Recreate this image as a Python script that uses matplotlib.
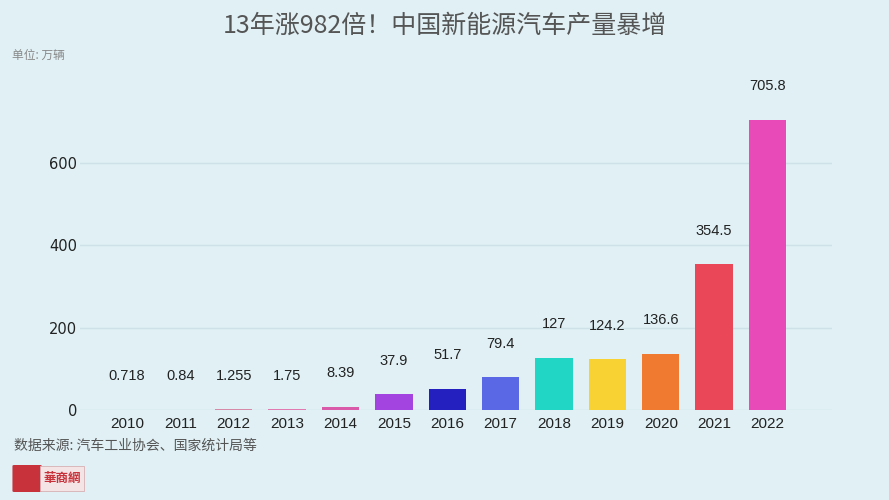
import matplotlib.pyplot as plt
from matplotlib.patches import FancyBboxPatch, Rectangle

plt.rcParams['font.family'] = ['Noto Sans CJK SC', 'DejaVu Sans']

years = ['2010', '2011', '2012', '2013', '2014', '2015', '2016',
         '2017', '2018', '2019', '2020', '2021', '2022']
output = [0.718, 0.84, 1.255, 1.75, 8.39, 37.9, 51.7, 79.4, 127, 124.2, 136.6, 354.5, 705.8]
labels = ['0.718', '0.84', '1.255', '1.75', '8.39', '37.9', '51.7', '79.4',
          '127', '124.2', '136.6', '354.5', '705.8']
colors = ['#c9a0b0', '#c9a0b0', '#d68aa8', '#e07ab0', '#d85aa8', '#a444e0', '#2420c0',
          '#5a68e6', '#22d6c6', '#f8d232', '#f07a30', '#ea4858', '#e84ab8']

BG = '#e0f0f5'

fig = plt.figure(figsize=(8.89, 5), dpi=100, facecolor=BG)
ax = fig.add_axes([0.090, 0.18, 0.846, 0.642], facecolor=BG)

x = list(range(len(years)))
ax.bar(x, output, width=0.7, color=colors, zorder=3)

for xi, v, lb in zip(x, output, labels):
    ax.annotate(lb, xy=(xi, v), xytext=(0, 24), textcoords='offset points',
                ha='center', va='center', fontsize=10.5, color='#222222',
                family='Liberation Sans')

ax.set_xlim(-0.88, 13.21)
ax.set_ylim(0, 780)
ax.set_yticks([0, 200, 400, 600])
ax.set_xticks(x)
ax.set_xticklabels(years)
ax.tick_params(axis='both', length=0, labelcolor='#222222')
ax.tick_params(axis='x', pad=5, labelsize=11)
ax.tick_params(axis='y', pad=2, labelsize=10.5)
for t in ax.get_xticklabels():
    t.set_family('Liberation Sans')
for t in ax.get_yticklabels():
    t.set_family('DejaVu Sans')
ax.grid(axis='y', color='#cfe1e8', linewidth=1, zorder=0)
for s in ax.spines.values():
    s.set_visible(False)

fig.text(0.5, 0.948, '13年涨982倍！中国新能源汽车产量暴增', ha='center', va='center',
         fontsize=18, color='#555555')
fig.text(0.014, 0.89, '单位: 万辆', ha='left', va='center', fontsize=8.5, color='#888888')
fig.text(0.016, 0.108, '数据来源: 汽车工业协会、国家统计局等', ha='left', va='center',
         fontsize=10, color='#555555')

# logo, bottom left
fig.patches.append(FancyBboxPatch((0.016, 0.018), 0.029, 0.05, boxstyle='round,pad=0.002',
                                  transform=fig.transFigure, facecolor='#c8323a',
                                  edgecolor='none'))
fig.patches.append(Rectangle((0.045, 0.018), 0.05, 0.05, transform=fig.transFigure,
                             facecolor='#f4e4e6', edgecolor='#d8b0b4', linewidth=0.6))
fig.text(0.070, 0.043, '華商網', ha='center', va='center', fontsize=9, color='#c8323a',
         weight='bold')

fig.savefig('out.png', dpi=100, facecolor=BG)
